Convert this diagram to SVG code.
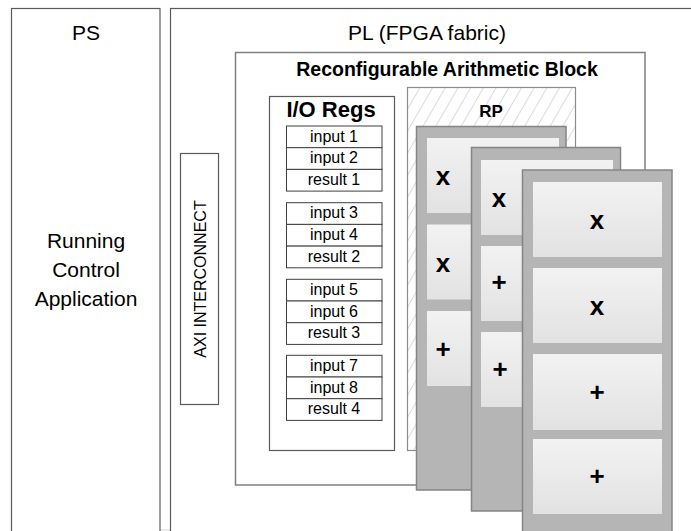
<svg xmlns="http://www.w3.org/2000/svg" width="691" height="531" viewBox="0 0 691 531">
<defs>
<pattern id="hatch" patternUnits="userSpaceOnUse" width="11" height="11" patternTransform="rotate(30)">
<rect width="11" height="11" fill="#ffffff"/>
<line x1="0" y1="0" x2="0" y2="11" stroke="#c4c4c4" stroke-width="1.2"/>
</pattern>
<linearGradient id="tileg" x1="0" y1="0" x2="0" y2="1">
<stop offset="0" stop-color="#f2f2f2"/>
<stop offset="1" stop-color="#e2e2e2"/>
</linearGradient>
</defs>
<style>
text{font-family:"Liberation Sans",Arial,sans-serif;fill:#000}
.big{font-size:21px;text-anchor:middle}
.reg{font-size:16px;text-anchor:middle}
.bold{font-weight:bold;text-anchor:middle}
.op{font-size:26px;font-weight:bold;text-anchor:middle}
.frame{fill:#fff;stroke:#5a5a5a;stroke-width:1.2}
.block{fill:#fff;stroke:#808080;stroke-width:1.5}
.row{fill:#fff;stroke:#404040;stroke-width:1}
.card{fill:#b5b5b5;stroke:#858585;stroke-width:1.5}
.tile{fill:url(#tileg)}
</style>
<rect width="691" height="531" fill="#fff"/>
<line x1="11" y1="529.8" x2="691" y2="529.8" stroke="#dedede" stroke-width="1.2"/>

<g id="ps">
<rect class="frame" x="11.5" y="8.5" width="148.5" height="540"/>
<text class="big" x="86" y="40">PS</text>
<text class="big" x="86" y="248">Running</text>
<text class="big" x="86" y="277">Control</text>
<text class="big" x="86" y="306">Application</text>
</g>

<g id="pl">
<rect class="frame" x="170.5" y="8.5" width="540" height="540"/>
<text class="big" x="427" y="40">PL (FPGA fabric)</text>
</g>

<g id="axi">
<rect class="frame" x="180.5" y="153.5" width="38" height="251"/>
<text class="reg" transform="translate(205.5,279) rotate(-90)">AXI INTERCONNECT</text>
</g>

<g id="rab">
<rect class="block" x="235.5" y="52.5" width="409.5" height="432.5"/>
<text class="bold" x="447" y="76" font-size="19.5">Reconfigurable Arithmetic Block</text>
</g>

<g id="ioregs">
<rect class="frame" x="269.5" y="96.5" width="125" height="354"/>
<text class="bold" x="331" y="117" font-size="22">I/O Regs</text>
<g id="regs1">
<rect class="row" x="286.5" y="126" width="95.5" height="21.7"/>
<rect class="row" x="286.5" y="147.7" width="95.5" height="21.7"/>
<rect class="row" x="286.5" y="169.4" width="95.5" height="21.7"/>
<text class="reg" x="334" y="141.5">input 1</text>
<text class="reg" x="334" y="163.2">input 2</text>
<text class="reg" x="334" y="184.9">result 1</text>
</g>
<g id="regs2">
<rect class="row" x="286.5" y="202.7" width="95.5" height="21.7"/>
<rect class="row" x="286.5" y="224.4" width="95.5" height="21.7"/>
<rect class="row" x="286.5" y="246.1" width="95.5" height="21.7"/>
<text class="reg" x="334" y="218.2">input 3</text>
<text class="reg" x="334" y="239.9">input 4</text>
<text class="reg" x="334" y="261.6">result 2</text>
</g>
<g id="regs3">
<rect class="row" x="286.5" y="279.3" width="95.5" height="21.7"/>
<rect class="row" x="286.5" y="301" width="95.5" height="21.7"/>
<rect class="row" x="286.5" y="322.7" width="95.5" height="21.7"/>
<text class="reg" x="334" y="294.8">input 5</text>
<text class="reg" x="334" y="316.5">input 6</text>
<text class="reg" x="334" y="338.2">result 3</text>
</g>
<g id="regs4">
<rect class="row" x="286.5" y="355.3" width="95.5" height="21.7"/>
<rect class="row" x="286.5" y="377" width="95.5" height="21.7"/>
<rect class="row" x="286.5" y="398.7" width="95.5" height="21.7"/>
<text class="reg" x="334" y="370.8">input 7</text>
<text class="reg" x="334" y="392.5">input 8</text>
<text class="reg" x="334" y="414.2">result 4</text>
</g>
</g>

<g id="rp">
<rect x="407.5" y="87.5" width="168" height="363" fill="url(#hatch)" stroke="#8c8c8c" stroke-width="1.2"/>
<text class="bold" x="491" y="117" font-size="17">RP</text>
</g>

<g id="config1">
<rect class="card" x="416.5" y="126.5" width="149.5" height="363.5"/>
<rect class="tile" x="427" y="138" width="132" height="75"/>
<rect class="tile" x="427" y="224.5" width="132" height="75"/>
<rect class="tile" x="427" y="311" width="132" height="75"/>
<text class="op" x="443" y="185">x</text>
<text class="op" x="443" y="272">x</text>
<text class="op" x="443" y="358">+</text>
</g>

<g id="config2">
<rect class="card" x="471.5" y="147.5" width="149" height="363.5"/>
<rect class="tile" x="481" y="160" width="132" height="75"/>
<rect class="tile" x="481" y="246" width="132" height="75"/>
<rect class="tile" x="481" y="332" width="132" height="75"/>
<text class="op" x="499" y="207">x</text>
<text class="op" x="499" y="291">+</text>
<text class="op" x="500" y="378">+</text>
</g>

<g id="config3">
<rect class="card" x="522.5" y="170" width="149.5" height="380"/>
<rect class="tile" x="533" y="182" width="129" height="75"/>
<rect class="tile" x="533" y="268" width="129" height="75"/>
<rect class="tile" x="533" y="354" width="129" height="76"/>
<rect class="tile" x="533" y="439" width="129" height="75"/>
<text class="op" x="597" y="229">x</text>
<text class="op" x="597" y="315">x</text>
<text class="op" x="597" y="401">+</text>
<text class="op" x="597" y="485">+</text>
</g>

<g id="connectors"></g>
</svg>
